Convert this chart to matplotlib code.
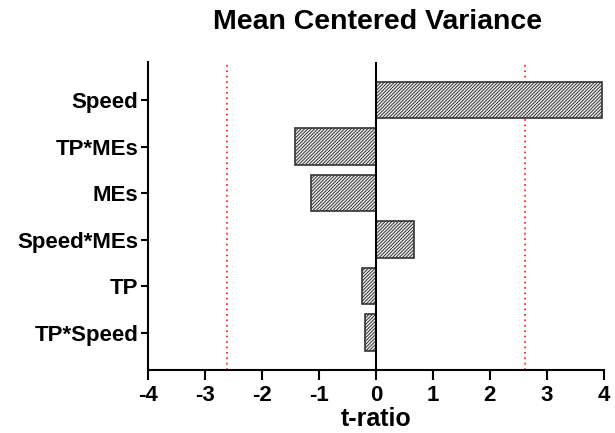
import matplotlib
matplotlib.use('Agg')
import matplotlib.pyplot as plt

# data
terms = ['Speed', 'TP*MEs', 'MEs', 'Speed*MEs', 'TP', 'TP*Speed']
t_ratio = [3.97, -1.42, -1.14, 0.67, -0.24, -0.19]
t_crit = 2.61

plt.rcParams['font.family'] = 'Liberation Sans'
plt.rcParams['font.weight'] = 'bold'
plt.rcParams['hatch.color'] = '#6e6e6e'
plt.rcParams['hatch.linewidth'] = 0.7

fig = plt.figure(figsize=(6.15, 4.33), dpi=100)
ax = fig.add_axes([0.2407, 0.146, 0.741, 0.711])

pos = list(range(len(terms)))
ax.barh(pos, t_ratio, height=0.78, color='#eeeeee', edgecolor='#333333',
        linewidth=1.2, hatch='//////////', zorder=2)
ax.axvline(0, color='black', lw=1.5, zorder=3)
# critical t lines sit behind the bars
ax.axvline(-t_crit, color='#ff3030', ls=(0, (1, 2)), lw=1.3, zorder=1)
ax.axvline(t_crit, color='#ff3030', ls=(0, (1, 2)), lw=1.3, zorder=1)

ax.set_xlim(-4, 4)
ax.set_ylim(5.8, -0.82)
ax.set_yticks(pos)
ax.set_yticklabels(terms, fontsize=16, fontweight='bold')
ax.set_xticks(range(-4, 5))
ax.set_xticklabels([str(v) for v in range(-4, 5)], fontsize=16, fontweight='bold')
ax.tick_params(axis='x', length=7, width=1.5, pad=4)
ax.tick_params(axis='y', length=5, width=1.5, pad=2)
for s in ['top', 'right']:
    ax.spines[s].set_visible(False)
for s in ['left', 'bottom']:
    ax.spines[s].set_linewidth(1.5)

ax.set_xlabel('t-ratio', fontsize=18, fontweight='bold', labelpad=1)
fig.suptitle('Mean Centered Variance', fontsize=20.5, fontweight='bold', x=0.614, y=0.98)

fig.savefig('out.png', dpi=100)
